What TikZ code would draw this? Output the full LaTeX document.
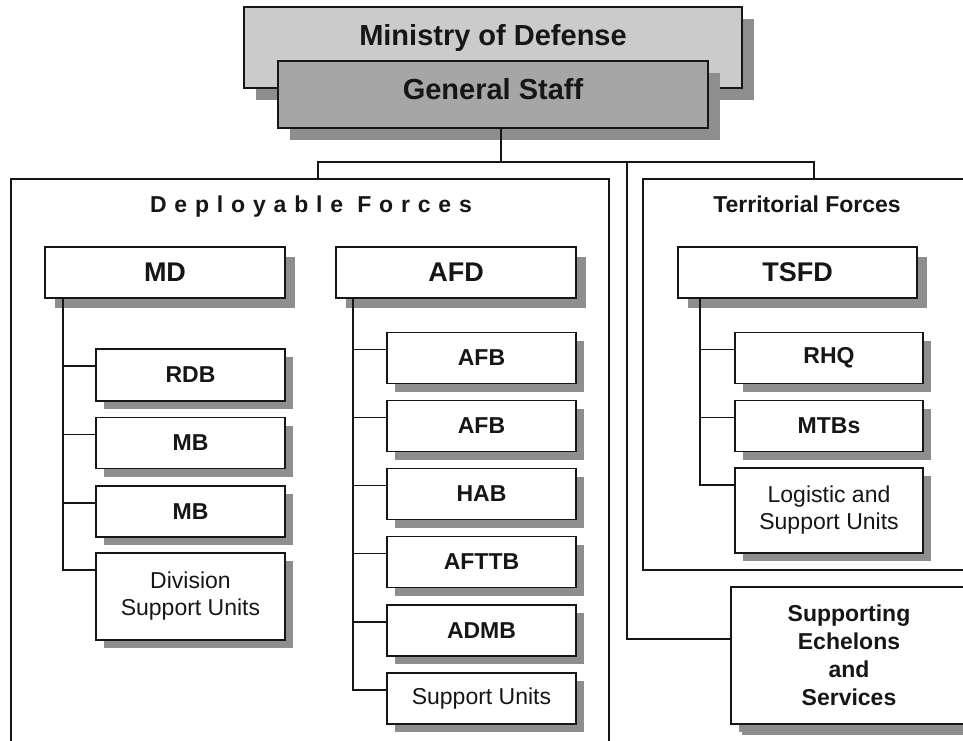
\documentclass[tikz,border=0pt]{standalone}
\usepackage{fontspec}
\setmainfont{Liberation Sans}
\newfontfamily\spacedfont[LetterSpace=34]{Liberation Sans}
\usetikzlibrary{shadows,calc}

\definecolor{modgray}{HTML}{CBCBCB}
\definecolor{gsgray}{HTML}{A6A6A6}
\definecolor{shadowgray}{HTML}{8E8E8E}
\definecolor{inkc}{HTML}{161616}

\tikzset{
  shadowed/.style={general shadow={fill=shadowgray, shadow xshift=#1, shadow yshift=-#1}},
  boxbase/.style={draw=inkc, line width=1.8pt, fill=white, outer sep=0pt,
    inner sep=2pt, align=center, text=inkc},
  topbox/.style={boxbase, shadowed=12pt, font=\bfseries\fontsize{29}{32}\selectfont},
  parentbox/.style={boxbase, shadowed=10pt, minimum width=240pt, minimum height=51pt,
    font=\bfseries\fontsize{27}{30}\selectfont},
  kidbox/.style={boxbase, shadowed=8pt, minimum width=189pt, minimum height=51pt,
    font=\bfseries\fontsize{23}{27}\selectfont},
  kidplain/.style={kidbox, font=\fontsize{23}{27}\selectfont},
  conn/.style={draw=inkc, line width=1.7pt},
  frame/.style={draw=inkc, line width=1.6pt},
  titletext/.style={text=inkc, anchor=base, inner sep=0pt}
}

\begin{document}
\begin{tikzpicture}[x=1pt, y=-1pt]
\useasboundingbox (0,0) rectangle (963,740);
\begin{scope}
\clip (0,0) rectangle (963,740);

% headquarters
\node[topbox, fill=modgray, minimum width=498pt, minimum height=81pt,
      text height=20pt, text depth=25pt] (mod) at (493,47.5) {Ministry of Defense};
\node[topbox, fill=gsgray, minimum width=430pt, minimum height=67pt,
      text height=20pt, text depth=11pt] (gs) at (493,94.5) {General Staff};

% force groupings
\draw[frame] (11,750) |- (609,179) -- (609,750);
\draw[frame] (975,179) -| (643,570) -- (975,570);
\node[titletext, font=\spacedfont\bfseries\fontsize{23}{27}\selectfont] (deptitle) at (311,212) {Deployable Forces};
\node[titletext, font=\bfseries\fontsize{23}{27}\selectfont] (tertitle) at (807,212) {Territorial Forces};

% division headquarters
\node[parentbox] (md) at (165,272.5) {MD};
\node[parentbox] (afd) at (456,272.5) {AFD};
\node[parentbox, minimum width=239pt] (tsfd) at (797.5,272.5) {TSFD};

% MD subordinates
\node[kidbox, minimum height=52pt] (rdb) at (190.5,375) {RDB};
\node[kidbox] (mba) at (190.5,443) {MB};
\node[kidbox] (mbb) at (190.5,511.5) {MB};
\node[kidplain, minimum height=87pt] (dsu) at (190.5,596.5) {Division\\Support Units};

% AFD subordinates
\node[kidbox] (afba) at (481.5,358) {AFB};
\node[kidbox] (afbb) at (481.5,426) {AFB};
\node[kidbox] (hab) at (481.5,494) {HAB};
\node[kidbox] (afttb) at (481.5,562) {AFTTB};
\node[kidbox] (admb) at (481.5,630.5) {ADMB};
\node[kidplain] (su) at (481.5,698.5) {Support Units};

% TSFD subordinates
\node[kidbox, minimum width=188pt] (rhq) at (829,358) {RHQ};
\node[kidbox, minimum width=188pt] (mtbs) at (829,426) {MTBs};
\node[kidplain, minimum width=188pt, minimum height=85pt] (lsu) at (829,510.5) {Logistic and\\Support Units};

% supporting echelons
\node[kidbox, shadowed=11pt, minimum width=236pt, minimum height=137pt,
      font=\bfseries\fontsize{23}{28}\selectfont] (ses) at (849,655.5)
      {Supporting\\Echelons\\and\\Services};

% top-level connectors
\coordinate (gsdrop) at ($(gs.south)+(8,0)$);
\coordinate (busL) at (318,162);
\coordinate (busR) at (814,162);
\coordinate (depTop) at (318,179);
\coordinate (terTop) at (814,179);
\coordinate (supdrop) at (627,162);
\draw[conn] (gsdrop) -- (gsdrop |- busL);
\draw[conn] (depTop) |- (busR) -- (terTop);
\draw[conn] (supdrop) |- ($(ses.north west)+(0,52)$);

% division trunks and branches
\coordinate (mdtrunk) at ($(md.south west)+(18,0)$);
\coordinate (afdtrunk) at ($(afd.south west)+(17,0)$);
\coordinate (tsfdtrunk) at ($(tsfd.south west)+(22,0)$);
\foreach \k in {rdb,mba,mbb,dsu}
  \draw[conn] ($(\k.north west)+(0,17)$) -| (mdtrunk);
\foreach \k in {afba,afbb,hab,afttb,admb,su}
  \draw[conn] ($(\k.north west)+(0,17)$) -| (afdtrunk);
\foreach \k in {rhq,mtbs,lsu}
  \draw[conn] ($(\k.north west)+(0,17)$) -| (tsfdtrunk);
\end{scope}
\end{tikzpicture}
\end{document}
